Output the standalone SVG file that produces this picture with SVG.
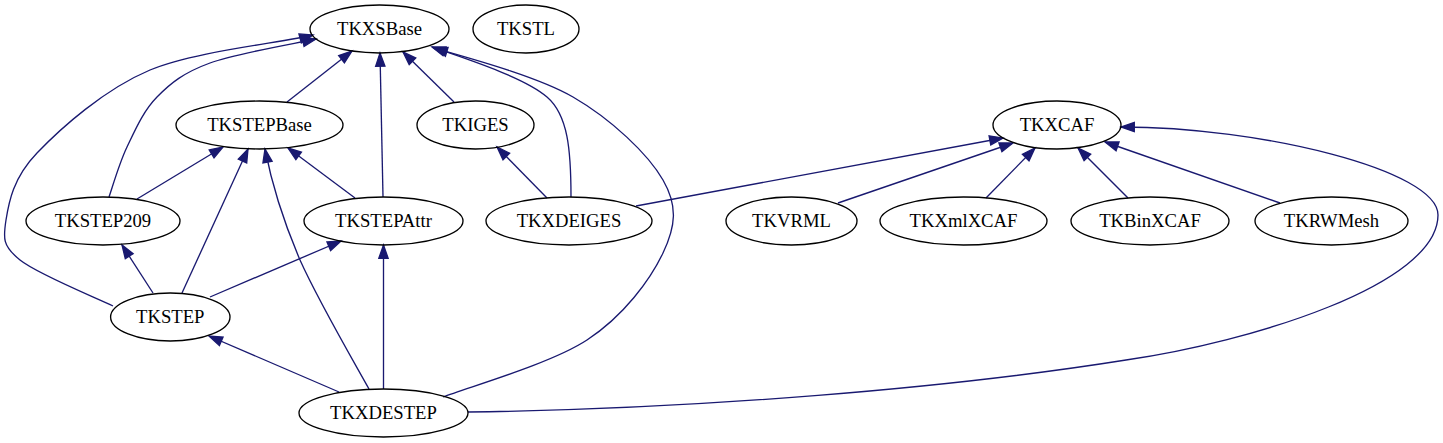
<svg xmlns="http://www.w3.org/2000/svg" width="1443" height="443" viewBox="0 0 1443 443">
<style>
.n ellipse{fill:none;stroke:#000;stroke-width:1.33}
.n text{font-family:'Liberation Serif','DejaVu Serif',serif;font-size:18.67px;text-anchor:middle;fill:#000}
.e path{fill:none;stroke:#191970;stroke-width:1.33;marker-end:url(#arr)}
</style>
<defs>
<marker id="arr" markerUnits="userSpaceOnUse" markerWidth="15" markerHeight="11" refX="13.3" refY="4.67" orient="auto" overflow="visible">
<path d="M0,0 L13.3,4.67 L0,9.33 Z" fill="#191970" stroke="#191970" stroke-width="1.33"/>
</marker>
</defs>
<rect width="1443" height="443" fill="#fff"/>
<g id="edges" class="e">
<path d="M287,102 L352,51"/>
<path d="M383,197 L380,53"/>
<path d="M454,102 L403,52"/>
<path d="M571,197 C571,150 568,115 547,97 C525,78 470,60 432,47"/>
<path d="M109,197 C112,188.7 119,163.7 127,147 C135,130.3 143.2,111 157,97 C170.8,83 183.5,72.7 210,63 C236.5,53.3 298.3,43 316,39"/>
<path d="M113,306 C97.5,298.3 37.8,274.3 20,260 C2.2,245.7 3.2,237.8 6,220 C8.8,202.2 13,178 37,153 C61,128 104.2,89.3 150,70 C195.8,50.7 285,42.5 313,35"/>
<path d="M443,397 C467,387.5 550.3,364 587,340 C623.7,316 650.3,279.7 663,253 C675.7,226.3 678,206 663,180 C648,154 611.5,119.3 573,97 C534.5,74.7 455.5,54.5 434,48"/>
<path d="M137,199 L223,147"/>
<path d="M182,293 L248,149"/>
<path d="M369,389 C350,355 318,300 300,260 C285,225 272,185 265,149"/>
<path d="M355,198 L288,148"/>
<path d="M547,198 L497,147"/>
<path d="M636,206 L1003,138"/>
<path d="M838,203 L1013,143"/>
<path d="M986,198 L1035,148"/>
<path d="M1128,198 L1078,148"/>
<path d="M1280,203 L1105,142"/>
<path d="M468,412 C700,409 950,388 1126,360 C1250,342 1438,285 1438,215 C1438,170 1260,127 1121,127"/>
<path d="M153,293 L122,245"/>
<path d="M210,297 L341,241"/>
<path d="M383.5,389 L383.5,245"/>
<path d="M339,392 L209,336"/>
</g>
<g id="TKXSBase" class="n"><ellipse cx="379.5" cy="29" rx="69.5" ry="24"/><text x="379.5" y="34.5" font-family="Liberation Serif, serif">TKXSBase</text></g>
<g id="TKSTL" class="n"><ellipse cx="526" cy="29" rx="53" ry="24"/><text x="526" y="34.5">TKSTL</text></g>
<g id="TKSTEPBase" class="n"><ellipse cx="259.5" cy="125" rx="83.5" ry="24"/><text x="259.5" y="130.5">TKSTEPBase</text></g>
<g id="TKIGES" class="n"><ellipse cx="475.5" cy="125" rx="58.5" ry="24"/><text x="475.5" y="130.5">TKIGES</text></g>
<g id="TKXCAF" class="n"><ellipse cx="1057" cy="125" rx="64" ry="24"/><text x="1057" y="130.5">TKXCAF</text></g>
<g id="TKSTEP209" class="n"><ellipse cx="103" cy="221" rx="77" ry="24"/><text x="103" y="226.5">TKSTEP209</text></g>
<g id="TKSTEPAttr" class="n"><ellipse cx="383.5" cy="221" rx="79.5" ry="24"/><text x="383.5" y="226.5">TKSTEPAttr</text></g>
<g id="TKXDEIGES" class="n"><ellipse cx="569" cy="221" rx="83" ry="24"/><text x="569" y="226.5">TKXDEIGES</text></g>
<g id="TKVRML" class="n"><ellipse cx="791.5" cy="221" rx="65.5" ry="24"/><text x="791.5" y="226.5">TKVRML</text></g>
<g id="TKXmlXCAF" class="n"><ellipse cx="963.5" cy="221" rx="83.5" ry="24"/><text x="963.5" y="226.5">TKXmlXCAF</text></g>
<g id="TKBinXCAF" class="n"><ellipse cx="1150" cy="221" rx="79" ry="24"/><text x="1150" y="226.5">TKBinXCAF</text></g>
<g id="TKRWMesh" class="n"><ellipse cx="1331.5" cy="221" rx="76.5" ry="24"/><text x="1331.5" y="226.5">TKRWMesh</text></g>
<g id="TKSTEP" class="n"><ellipse cx="170.3" cy="317" rx="59.7" ry="24"/><text x="170.3" y="322.5">TKSTEP</text></g>
<g id="TKXDESTEP" class="n"><ellipse cx="383.5" cy="413" rx="84.5" ry="24"/><text x="383.5" y="418.5">TKXDESTEP</text></g>
</svg>
